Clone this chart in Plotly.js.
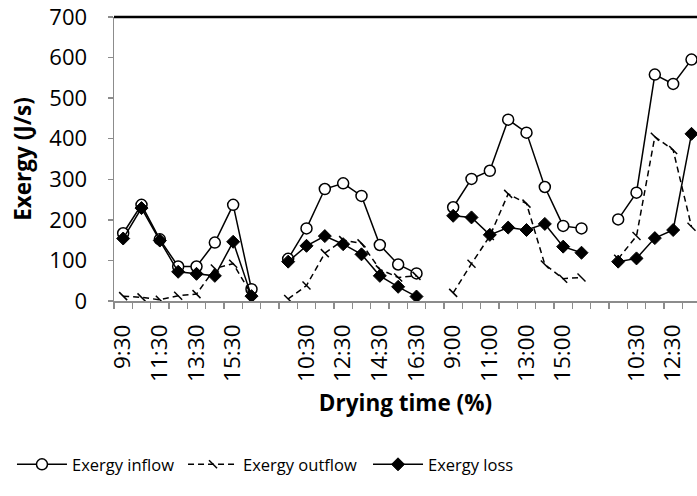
<!DOCTYPE html>
<html>
<head>
<meta charset="utf-8">
<script src="https://cdn.plot.ly/plotly-3.0.1.min.js"></script>
<style>html,body{margin:0;padding:0;background:#fff;overflow:hidden}</style>
</head>
<body>
<div id="chart" style="width:697px;height:496px"></div>
<script>
// Time labels
const timesA = ['9:30','10:30','11:30','12:30','13:30','14:30','15:30','16:30'];
const timesB = ['9:00','10:00','11:00','12:00','13:00','14:00','15:00','16:00'];

// Group 1
const g1Inflow  = [167, 237, 152, 85, 85, 144, 237, 29];
const g1Outflow = [12, 9, 3, 13, 17, 80, 92, 16];
const g1Loss    = [154, 229, 149, 72, 67, 62, 146, 12];
// Group 2
const g2Inflow  = [104, 179, 276, 290, 259, 138, 90, 68];
const g2Outflow = [5, 38, 118, 150, 142, 78, 58, 62];
const g2Loss    = [97, 136, 160, 140, 115, 62, 35, 11];
// Group 3
const g3Inflow  = [231, 301, 321, 447, 415, 281, 185, 179];
const g3Outflow = [20, 92, 160, 264, 240, 90, 55, 58];
const g3Loss    = [210, 206, 163, 181, 175, 190, 134, 119];
// Group 4 (visible part)
const g4Inflow  = [201, 267, 558, 535, 595];
const g4Outflow = [104, 160, 405, 372, 183];
const g4Loss    = [97, 105, 155, 175, 412];

const groups = [
  {times: timesA, inflow: g1Inflow, outflow: g1Outflow, loss: g1Loss},
  {times: timesA, inflow: g2Inflow, outflow: g2Outflow, loss: g2Loss},
  {times: timesB, inflow: g3Inflow, outflow: g3Outflow, loss: g3Loss},
  {times: timesA, inflow: g4Inflow, outflow: g4Outflow, loss: g4Loss}
];

const xs = [], inY = [], outY = [], lossY = [], labels = [];
groups.forEach((g, gi) => {
  if (gi > 0) { xs.push(xs.length); inY.push(null); outY.push(null); lossY.push(null); labels.push(''); }
  g.inflow.forEach((v, i) => {
    xs.push(xs.length); inY.push(v); outY.push(g.outflow[i]); lossY.push(g.loss[i]); labels.push(g.times[i]);
  });
});
const tickvals = [], ticktext = [];
labels.forEach((l, i) => { if (i % 2 === 0) { tickvals.push(i); ticktext.push(l); } });

const FONT = 'Open Sans, Liberation Sans, sans-serif';
const traces = [
  {x: xs, y: inY, name: 'Exergy inflow', mode: 'lines+markers', connectgaps: false, legend: 'legend',
   line: {color: '#000', width: 1.5},
   marker: {symbol: 'circle', size: 11, color: '#fff', line: {color: '#000', width: 1.5}}},
  {x: xs, y: outY, name: 'Exergy outflow', mode: 'lines+markers', connectgaps: false, legend: 'legend2',
   line: {color: '#000', width: 1.5, dash: '6px,4px'},
   marker: {symbol: 'line-nw', size: 8, color: '#000', line: {color: '#000', width: 1.5}}},
  {x: xs, y: lossY, name: 'Exergy loss', mode: 'lines+markers', connectgaps: false, legend: 'legend3',
   line: {color: '#000', width: 1.5},
   marker: {symbol: 'diamond', size: 10, color: '#000', line: {color: '#000', width: 1}}}
];

function legendAt(x) {
  return {orientation: 'h', x: x, xanchor: 'left', y: -0.576, yanchor: 'middle', itemwidth: 50,
          font: {family: FONT, size: 16.5, color: '#000'}, bgcolor: 'rgba(0,0,0,0)'};
}

const layout = {
  width: 697, height: 496,
  margin: {l: 114, r: 0, t: 17, b: 195, pad: 0},
  paper_bgcolor: '#fff', plot_bgcolor: '#fff',
  font: {family: FONT, color: '#000'},
  showlegend: true,
  legend: legendAt(-0.175),
  legend2: legendAt(0.1184),
  legend3: legendAt(0.4357),
  xaxis: {
    range: [-0.5, 31.3], autorange: false,
    tickmode: 'array', tickvals: tickvals, ticktext: ticktext,
    tickangle: -90, ticks: '', ticklabelstandoff: 13,
    tickfont: {family: FONT, size: 22.5, color: '#000'},
    minor: {tickmode: 'linear', tick0: -0.5, dtick: 1, ticks: 'outside', ticklen: 6, tickcolor: '#8c8c8c', tickwidth: 1.5, showgrid: false},
    showline: true, linecolor: '#8c8c8c', linewidth: 1.5,
    showgrid: false, zeroline: false,
    title: {text: '<b>Drying time (%)</b>', font: {family: FONT, size: 22.5, color: '#000'}, standoff: 14},
    automargin: false
  },
  yaxis: {
    range: [0, 700], autorange: false, tickmode: 'linear', tick0: 0, dtick: 100,
    ticks: 'outside', ticklen: 5, tickcolor: '#8c8c8c', tickwidth: 1.5,
    ticklabelstandoff: 16,
    tickfont: {family: FONT, size: 22, color: '#000'},
    showline: true, linecolor: '#8c8c8c', linewidth: 1.5,
    showgrid: false, zeroline: false,
    title: {text: '<b>Exergy (J/s)</b>', font: {family: FONT, size: 22.5, color: '#000'}, standoff: 11},
    automargin: false
  },
  shapes: [
    {type: 'line', xref: 'paper', yref: 'paper', x0: 0, x1: 1, y0: 1, y1: 1, line: {color: '#000', width: 2.5}}
  ]
};

Plotly.newPlot('chart', traces, layout, {displayModeBar: false, staticPlot: true});
</script>
</body>
</html>
